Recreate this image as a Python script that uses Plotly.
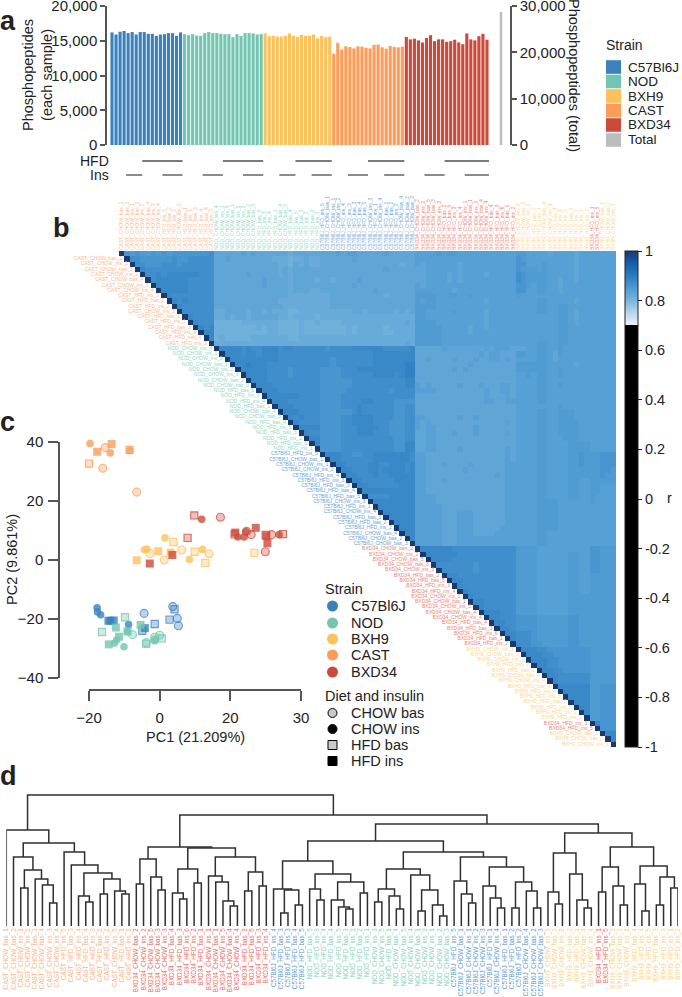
import plotly.graph_objects as go

W, H = 682, 997
FONT = "Liberation Sans"
def PX(x): return x / W
def PY(y): return 1 - y / H

STRAINS = ["C57Bl6J", "NOD", "BXH9", "CAST", "BXD34"]
COLORS = {"C57Bl6J": "#3b82bd", "NOD": "#72c5b0", "BXH9": "#fbc25c", "CAST": "#fc9c58", "BXD34": "#cc4a3c"}
LABEL_COLORS = {"C57Bl6J": "#6aa3d6", "NOD": "#8fd8c4", "BXH9": "#fdd68f", "CAST": "#fcb98e", "BXD34": "#ec8478"}
DENDRO_COLORS = {"C57Bl6J": "#5a9ad2", "NOD": "#7fd1ba", "BXH9": "#fdcf7e", "CAST": "#fdb27c", "BXD34": "#e8695c"}
TOTAL_COLOR = "#bdbdbd"

# Panel a
C57_COUNTS = [16200, 15900, 16300, 16400, 16100, 16250, 15900, 16250, 16250, 16000, 16000, 15700, 15900, 15950, 16100, 16100, 15700, 16200]
NOD_COUNTS = [15950, 15800, 15950, 15750, 15700, 16100, 16250, 16100, 16100, 16000, 15950, 15950, 15500, 15950, 15700, 16100, 16100, 16050, 15900, 15950]
BXH9_COUNTS = [16050, 15650, 15700, 15600, 15600, 15700, 16050, 15700, 15550, 15850, 15700, 15700, 15900, 15350, 15700, 15500, 15600]
CAST_COUNTS = [13100, 14700, 13750, 14200, 14100, 13900, 14200, 14150, 14000, 13900, 14400, 14450, 14050, 13850, 14250, 14100, 14050, 14150]
BXD34_COUNTS = [15550, 15200, 15300, 15050, 14750, 15400, 15800, 14950, 15200, 15200, 14850, 14950, 15150, 14750, 14500, 16050, 15200, 15050, 15650, 16000, 15150]
TOTAL_COUNT = 28700
HFD_SPANS = [(8, 18), (28, 38), (46, 55), (64, 73), (83, 94)]
INS_SPANS = [(4, 8), (13, 18), (23, 28), (33, 38), (42, 46), (50, 55), (59, 64), (68, 73), (78, 83), (88, 94)]

# Panel c: (PC1, PC2)
C57_CB = [(-4.4, -18.1), (3.7, -15.8), (5.0, -19.8), (5.3, -22.3)]
C57_CI = [(-17.7, -16.2), (-17.6, -17.6), (-16.7, -18.6), (-8.8, -21.9)]
C57_HB = [(-4.9, -24.0), (-1.4, -21.7), (2.8, -20.2), (4.2, -16.7)]
C57_HI = [(-21.1, -22.1), (-14.5, -20.6), (-13.9, -20.6), (-13.0, -20.5), (-4.2, -23.1)]
NOD_CB = [(-7.7, -25.3), (-3.8, -28.0), (-1.4, -26.2), (0.0, -25.5), (-1.4, -27.1)]
NOD_CI = [(-10.1, -29.4), (-12.2, -27.1), (-12.8, -28.2), (-1.4, -27.3), (-9.1, -24.3)]
NOD_HB = [(-16.3, -24.4), (-9.8, -19.4), (0.6, -26.6), (-3.8, -28.4)]
NOD_HI = [(-12.4, -22.9), (-5.4, -22.0), (-11.5, -26.0), (-14.4, -28.6), (-9.1, -24.2)]
BXH_CB = [(-2.7, 2.2), (1.3, 0.0), (6.2, 3.4), (14.0, 2.1)]
BXH_CI = [(1.5, 7.5), (-3.6, 3.7), (-4.3, 3.5), (12.1, 3.6), (8.4, 0.2)]
BXH_HB = [(3.9, 6.1), (9.9, 2.8), (12.9, -1.0), (26.8, 2.4)]
BXH_HI = [(-6.5, -0.1), (-0.4, 3.0), (3.1, 2.5)]
CAST_CB = [(-7.8, 44.1), (-15.4, 38.1), (-16.1, 31.1), (-6.5, 23.0)]
CAST_CI = [(-25.5, 39.0), (-19.7, 39.5), (-17.2, 41.6), (-14.0, 36.3), (-8.5, 37.1)]
CAST_HB = [(-23.4, 40.3), (-20.0, 32.7), (-8.5, 37.3)]
CAST_HI = [(-18.3, 46.1), (-18.3, 41.8), (-13.6, 39.3), (-12.0, 41.1), (-17.7, 36.7)]
BXD_CB = [(17.2, 14.5), (25.9, 8.6), (29.9, 2.8), (31.7, 8.6), (24.6, 9.7)]
BXD_CI = [(11.9, 13.8), (22.1, 7.8), (23.9, 7.8), (24.4, 9.6), (33.8, 8.6)]
BXD_HB = [(9.8, 15.1), (7.9, 7.5), (21.2, 8.7), (30.0, 8.5), (34.9, 8.8)]
BXD_HI = [(-2.8, -1.2), (3.6, 1.7), (21.4, 9.3), (27.2, 10.9), (30.2, 8.1), (30.5, 5.7)]

# Panel b: sample order
HEAT_CAST = ["CAST_" + s for s in "CHOW_bas_1 CHOW_bas_2 CHOW_ins_1 CHOW_bas_3 CHOW_ins_2 CHOW_bas_4 CHOW_ins_3 CHOW_ins_4 HFD_ins_5 HFD_bas_2 HFD_ins_2 CHOW_ins_5 HFD_bas_1 HFD_ins_1 HFD_bas_3 HFD_ins_4 HFD_bas_4 HFD_ins_3".split()]
HEAT_NOD = ["NOD_" + s for s in "CHOW_ins_4 CHOW_ins_1 CHOW_ins_5 CHOW_bas_1 CHOW_ins_2 CHOW_ins_3 CHOW_bas_2 CHOW_bas_3 HFD_bas_5 HFD_ins_3 HFD_ins_4 HFD_bas_1 CHOW_bas_4 CHOW_bas_5 HFD_bas_4 HFD_ins_5 HFD_bas_3 HFD_ins_2 HFD_bas_2 HFD_ins_1".split()]
HEAT_C57 = ["C57Bl6J_" + s for s in "HFD_ins_5 CHOW_bas_1 CHOW_ins_1 CHOW_ins_2 HFD_ins_4 HFD_ins_3 HFD_bas_3 HFD_bas_4 HFD_bas_5 CHOW_ins_3 HFD_ins_1 CHOW_ins_4 HFD_bas_1 HFD_bas_2 HFD_ins_2 CHOW_bas_4 CHOW_bas_2 CHOW_bas_3".split()]
HEAT_BXD = ["BXD34_" + s for s in "CHOW_bas_2 CHOW_ins_2 CHOW_bas_5 CHOW_bas_3 CHOW_ins_3 HFD_bas_2 HFD_bas_5 HFD_ins_3 HFD_ins_4 CHOW_ins_1 CHOW_bas_1 CHOW_ins_5 CHOW_bas_4 CHOW_ins_4 HFD_bas_4 HFD_bas_3 HFD_ins_6 HFD_bas_1 HFD_ins_2".split()]
HEAT_BXH = ["BXH9_" + s for s in "CHOW_ins_3 CHOW_bas_3 CHOW_ins_2 HFD_bas_2 HFD_bas_1 CHOW_bas_4 CHOW_ins_4 HFD_bas_4 HFD_ins_4 HFD_ins_5 HFD_bas_3 HFD_ins_3 HFD_ins_1 HFD_ins_2".split()]
HEAT_END = ["BXD34_HFD_ins_1", "BXD34_HFD_ins_5", "BXH9_CHOW_bas_1", "BXH9_CHOW_bas_2", "BXH9_CHOW_ins_1"]
HEAT_SAMPLES = HEAT_CAST + HEAT_NOD + HEAT_C57 + HEAT_BXD + HEAT_BXH + HEAT_END

# Correlation: digit d means r = 0.80 + 0.01 d. Each row starts right of the diagonal.
HEAT_ROWS = """
65655656566666667 33333434333333233333 333434433333433333 4444545544444444444 55444434444344 44 444
7766666676677777 33433333333222122322 333333433333333333 4444444444444444444 65444444444344 44 444
776667776777777 33333333333322132322 333333333333333233 4344444434444444444 66444544444344 44 444
87777777777777 33333333333323233333 333333333333433333 3344444434444444444 65554544444344 44 444
7787888888777 33333343333323233333 333333333333333333 3344443434444344444 76555544444344 44 444
788888877777 33333333343333233332 332333343333333333 3344443434444444444 76555544344344 44 444
88888877777 33333333343333233333 333333433333333333 4344444444444444444 66545544344444 44 444
8888877777 33333333333333233322 333333333343333333 4444444344444444444 66445544344444 44 444
877777777 33333333333333222222 223333333333233333 5555445544544444444 54444444444444 44 444
87877777 33333333333322222222 223333333333333333 5455444444444344444 44445544444344 44 444
8777777 33333333333332222222 223333333333333333 5555444444444444444 44445544554444 44 444
777777 22333323323222112222 222222332333332323 5544444544444344444 44445544554344 44 444
87777 22323323333322122221 222222222222222222 5544444444444344444 44444444554344 44 444
8777 11111222222211112112 111122222222222232 5555444444444344444 44444444554344 44 444
878 11111111212211112111 111112122222122222 5555544444344344444 44444444554444 44 444
88 11111111112211112111 111112122222112222 5555544444344444444 44444444554444 44 444
8 12111112222222112222 222222222222222222 5555544444444444444 44444444554444 44 444
22222222222222222222 222222222222222232 5555544444444444444 44445544554444 44 444
8888787788878877777 767777888888777778 3333343333333434443 33445544544444 44 444
888788788877777777 777777777788888888 3333333333334344333 55445543544444 44 444
88888888877777777 776777777788888888 3343333433343344343 44445543444444 44 444
8898887777777777 776777777788888899 3333333333433333333 55555544444344 44 444
888887777677777 666677788888888899 3333333434333333333 55555544544444 44 444
88887777677777 666677777788887899 3333333333333333333 44545544544444 44 444
8887777777777 666666777777777788 3333333333333333333 44445544444444 44 444
888777777777 666666777777777788 4343333343334333443 44445544544444 44 444
88877777777 666667777777767777 4444333333333433443 44445544444444 44 444
8888887777 666677777777777777 3333333333333433343 44445544444444 44 444
888777777 666677778877776666 3333333333333443344 44445544444444 44 444
88877777 666677787777776677 3333333333333333333 44444444544444 44 444
8887777 666666787777776677 3333333333333333333 44445544555444 44 444
878777 666677888877776677 4433333343343333333 44445544555444 44 444
87777 666677888877766677 4343333333333333343 44445544555544 44 444
8888 666677788887766677 4344333333343333333 44445544555544 44 444
877 666677788877766677 3344333433343333343 44445544555544 44 444
88 666677777777776677 3344333333333333333 44445544455544 44 444
8 666677777777776688 3344333333333333333 44445544445555 44 444
666677777777776688 3344333343333333343 44445544445555 44 444
88877667788888887 4433333333333333343 44445544445565 55 666
8877777788888887 4433333333333333343 44445544445565 55 666
887777887788878 4433343333433333344 44445544445565 55 666
88777887888878 4433333334333333344 44445544445555 55 665
8877787788888 4433333333333334344 44445544445555 55 655
887777778888 4433343333333333344 44445544445544 55 555
88777777888 4433333333333333344 44445544445544 55 444
8888888888 4433333333333333344 44445544445544 55 444
777788888 4444333333333333344 44445544445544 54 444
88888888 4444333333333333344 44445555444444 54 444
8888888 4444433333333333344 44445555444444 44 444
888888 4444433344433333344 44445555444444 44 444
88888 4444433344433333344 44445555444444 44 444
8888 4444433344433333344 44445555444444 44 444
888 4444433344433333444 44445555444444 44 444
88 4444433344433334444 44445544444444 44 444
8 4444433344444444444 44445544444444 44 444
4444433344444444444 44445544444444 44 444
888888777777777777 55554444444444 66 555
88888877777777777 55554444445544 66 555
8888777777777777 55554444445544 66 555
777777767777777 55554444445544 66 555
77777767777777 55554444445544 66 555
8877777777777 55554444445544 55 555
887777777777 55554444445544 55 555
87777777777 55554444445544 55 555
8777777777 55554444445544 55 555
877777777 55554444445555 55 555
88777777 55554444445555 55 555
8777777 55554444445555 55 555
888777 55554444445555 55 555
88777 66665555556655 55 555
8877 66665555556655 55 555
887 66665555556655 55 555
88 77765555556655 55 555
8 77765555556655 55 555
77766555556655 55 555
8887766666666 55 555
888776666666 55 555
88877666666 55 555
8877666666 55 555
887766666 55 555
88777777 55 555
8777777 55 555
888888 55 666
88888 55 666
8888 55 666
888 55 666
88 55 666
8 55 666
55 666
8 666
666
88
8
""".split("\n")[1:-1]

# Panel d: nested merges [height, left, right]; 0 is a leaf
TREE_CAST = [96, 0, [83,
    [69, 0, [56, [38, 0, 0], [47, 0, [41, 0, [23, 0, 0]]]]],
    [74, 0, [61, 0, [53, [30, 0, [24, 0, 0]], [47, [32, 0, 0], [35, 0, [32, 0, 0]]]]]]]]
TREE_BXD = [79,
    [67, [42, 0, 0], [49, 0, [36, 0, 0]]],
    [78, [57, [33, 0, [27, 0, 0]], [43, 0, 0]],
         [69, [50, 0, [44, 0, [25, 0, [20, 0, 0]]]], [54, [35, 0, 0], [40, 0, 0]]]]]
TREE_MID_A = [65, [37, 0, [36, [13, 0, 0], [21, 0, 0]]],
    [52, [37, 0, [26, 0, 0]], [44, [26, 0, [19, 0, [17, 0, 0]]], [33, 0, 0]]]]
TREE_MID_B = [74,
    [57, [37, [24, 0, 0], [30, 0, [17, 0, 0]]], [51, 0, [36, [15, 0, 0], [21, 0, [10, 0, 0]]]]],
    [69, [45, 0, [32, 0, [23, 0, 0]]],
         [59, [40, 0, [28, 0, [18, 0, 0]]], [44, [18, 0, 0], [35, 0, [18, 0, 0]]]]]]
TREE_BXH = [93,
    [73, [34, 0, [22, 0, 0]], [52, 0, [26, 0, [18, 0, 0]]]],
    [79, [59, [34, 0, 0], [40, 0, [21, 0, 0]]],
         [60, [42, 0, [15, 0, 0]], [49, [21, 0, 0], [38, 0, 0]]]]]
TREE = [131, TREE_CAST, [111, TREE_BXD, [102, [85, TREE_MID_A, TREE_MID_B], TREE_BXH]]]

DENDRO_CAST = ["CAST_" + s for s in "CHOW_bas_1 CHOW_bas_2 CHOW_ins_1 CHOW_ins_2 CHOW_bas_3 CHOW_bas_4 CHOW_ins_3 CHOW_ins_4 HFD_ins_5 HFD_bas_3 HFD_ins_4 HFD_bas_4 HFD_ins_3 HFD_bas_2 HFD_ins_2 CHOW_ins_5 HFD_bas_1 HFD_ins_1".split()]
DENDRO_BXD = ["BXD34_" + s for s in "CHOW_bas_2 CHOW_ins_2 CHOW_bas_5 CHOW_bas_3 CHOW_ins_3 HFD_bas_4 HFD_bas_3 HFD_ins_6 HFD_ins_2 HFD_bas_1 CHOW_ins_1 CHOW_bas_1 CHOW_ins_5 CHOW_bas_4 CHOW_ins_4 HFD_bas_2 HFD_bas_5 HFD_ins_3 HFD_ins_4".split()]
DENDRO_C57A = ["C57Bl6J_" + s for s in "HFD_ins_4 HFD_bas_3 HFD_ins_3 HFD_bas_4 HFD_bas_5".split()]
DENDRO_NOD = ["NOD_" + s for s in "HFD_bas_5 HFD_ins_3 HFD_ins_4 HFD_bas_4 HFD_ins_5 HFD_bas_3 HFD_ins_2 HFD_bas_2 HFD_ins_1 CHOW_ins_3 CHOW_ins_5 HFD_bas_1 CHOW_bas_4 CHOW_bas_5 CHOW_ins_4 CHOW_bas_1 CHOW_ins_2 CHOW_ins_1 CHOW_bas_2 CHOW_bas_3".split()]
DENDRO_C57B = ["C57Bl6J_" + s for s in "HFD_ins_5 CHOW_bas_1 CHOW_ins_1 CHOW_ins_2 CHOW_ins_3 HFD_ins_1 CHOW_ins_4 HFD_bas_1 HFD_bas_2 HFD_ins_2 CHOW_bas_4 CHOW_bas_2 CHOW_bas_3".split()]
DENDRO_BXHA = ["BXH9_" + s for s in "CHOW_ins_3 CHOW_bas_3 CHOW_ins_2 HFD_bas_2 HFD_bas_1 CHOW_bas_4 CHOW_ins_4".split()]
DENDRO_BXDB = ["BXD34_HFD_ins_1", "BXD34_HFD_ins_5"]
DENDRO_BXHB = ["BXH9_" + s for s in "CHOW_bas_1 CHOW_bas_2 CHOW_ins_1 HFD_bas_4 HFD_ins_4 HFD_ins_5 HFD_bas_3 HFD_ins_3 HFD_ins_1 HFD_ins_2".split()]
DENDRO_LEAVES = DENDRO_CAST + DENDRO_BXD + DENDRO_C57A + DENDRO_NOD + DENDRO_C57B + DENDRO_BXHA + DENDRO_BXDB + DENDRO_BXHB

def sample_color(name, table=LABEL_COLORS):
    return table[name.split("_")[0]]

fig = go.Figure()

# ---- a: bars
offset = 0
for strain, vals in zip(STRAINS, [C57_COUNTS, NOD_COUNTS, BXH9_COUNTS, CAST_COUNTS, BXD34_COUNTS]):
    fig.add_bar(x=list(range(offset, offset + len(vals))), y=vals, marker=dict(color=COLORS[strain], line_width=0),
                width=0.78, xaxis="x", yaxis="y", showlegend=False, name=strain)
    offset += len(vals)
fig.add_bar(x=[0], y=[TOTAL_COUNT], marker=dict(color=TOTAL_COLOR, line_width=0), width=0.18,
            xaxis="x2", yaxis="y2", showlegend=False, name="Total")

def spans_xy(spans, level):
    xs, ys = [], []
    for a, b in spans:
        xs += [a - 0.5, b - 0.5, None]
        ys += [level, level, None]
    return xs, ys
for spans, level in [(HFD_SPANS, 1), (INS_SPANS, 0)]:
    xs, ys = spans_xy(spans, level)
    fig.add_scatter(x=xs, y=ys, mode="lines", line=dict(color="#4d4d4d", width=1.3), xaxis="x3", yaxis="y3",
                    showlegend=False, hoverinfo="skip")

# ---- b: heatmap
n = len(HEAT_SAMPLES)
z = [[None] * n for _ in range(n)]
for i in range(n):
    z[i][i] = 1.0
    row = HEAT_ROWS[i].replace(" ", "") if i < len(HEAT_ROWS) else ""
    for j in range(i + 1, n):
        k = j - i - 1
        d = int(row[k]) if k < len(row) else (int(row[-1]) if row else 5)
        z[i][j] = 0.80 + 0.01 * d
scale = [[0, "#000000"], [0.8499, "#000000"], [0.85, "#eef4fa"], [0.875, "#b8d6ec"], [0.9, "#78b6df"],
         [0.925, "#4f9bd2"], [0.95, "#2a7bc2"], [0.975, "#1160ab"], [1, "#1a3a6e"]]
idx = list(range(n))
fig.add_heatmap(x=idx, y=idx, z=z, zmin=-1, zmax=1, colorscale=scale, xaxis="x5", yaxis="y5", hoverongaps=False,
                colorbar=dict(x=PX(625), xanchor="left", xpad=0, y=PY(251), yanchor="top", ypad=0,
                              len=496 / H, lenmode="fraction", thickness=13, thicknessmode="pixels",
                              tickmode="array", tickvals=[1, .8, .6, .4, .2, 0, -.2, -.4, -.6, -.8, -1],
                              ticktext=["1", "0.8", "0.6", "0.4", "0.2", "0", "-0.2", "-0.4", "-0.6", "-0.8", "-1"],
                              ticks="outside", ticklen=4, tickwidth=1, tickcolor="#222", outlinewidth=1, outlinecolor="#222",
                              tickfont=dict(size=14.5, color="#222", family=FONT)))
fig.add_scatter(x=[i - 0.9 for i in idx], y=idx, mode="text", text=HEAT_SAMPLES, textposition="middle left",
                textfont=dict(size=5, color=[sample_color(s) for s in HEAT_SAMPLES], family=FONT),
                xaxis="x5", yaxis="y5", showlegend=False, cliponaxis=False, hoverinfo="skip")

# ---- c: PCA
PCA_SETS = [("C57Bl6J", C57_CB, C57_CI, C57_HB, C57_HI), ("NOD", NOD_CB, NOD_CI, NOD_HB, NOD_HI),
            ("BXH9", BXH_CB, BXH_CI, BXH_HB, BXH_HI), ("CAST", CAST_CB, CAST_CI, CAST_HB, CAST_HI),
            ("BXD34", BXD_CB, BXD_CI, BXD_HB, BXD_HI)]
def rgba(hexc, a):
    h = hexc.lstrip("#")
    return f"rgba({int(h[:2],16)},{int(h[2:4],16)},{int(h[4:],16)},{a})"
for strain, cb, ci, hb, hi in PCA_SETS:
    c = COLORS[strain]
    for pts, sym, pale, size in [(cb, "circle", True, 8), (hb, "square", True, 7.2), (ci, "circle", False, 7.6), (hi, "square", False, 8)]:
        marker = dict(symbol=sym, size=size,
                      color=rgba(c, 0.35) if pale else rgba(c, 0.8),
                      line=dict(color=rgba(c, 0.75), width=1.1) if pale else dict(width=0))
        fig.add_scatter(x=[p[0] for p in pts], y=[p[1] for p in pts], mode="markers", marker=marker,
                        xaxis="x4", yaxis="y4", showlegend=False, cliponaxis=False, name=strain)

# ---- d: dendrogram
DX, DY = [], []
counter = [0]
def walk(node):
    if node == 0:
        counter[0] += 1
        return counter[0] - 1, 0
    h, left, right = node
    xl, hl = walk(left)
    xr, hr = walk(right)
    DX.extend([xl, xl, xr, xr, None])
    DY.extend([hl, h, h, hr, None])
    return (xl + xr) / 2, h
walk(TREE)
fig.add_scatter(x=DX, y=DY, mode="lines", line=dict(color="#2f2f2f", width=1.5), xaxis="x6", yaxis="y6",
                showlegend=False, cliponaxis=False, hoverinfo="skip")

AX = dict(showgrid=False, zeroline=False)
TXT = "#222222"
LINE = "#555555"
def tint(names, table):
    return [f'<span style="color:{sample_color(s, table)}">{s}</span>' for s in names]

layout = dict(
    width=W, height=H, autosize=False, margin=dict(l=0, r=0, t=0, b=0, autoexpand=False), paper_bgcolor="white",
    plot_bgcolor="rgba(0,0,0,0)", font=dict(family=FONT, color=TXT), barmode="overlay",
    xaxis=dict(AX, domain=[PX(107), PX(491)], range=[-1.24, 94], showticklabels=False, ticks="", showline=False),
    yaxis=dict(AX, domain=[PY(145), PY(6)], range=[0, 20000], showline=True, linecolor=LINE, linewidth=1.5,
               ticks="outside", ticklen=5, tickcolor=LINE, tickwidth=1.5, tickvals=[0, 5000, 10000, 15000, 20000],
               tickformat=",", tickfont=dict(size=15, color=TXT), ticklabeloverflow="allow"),
    xaxis2=dict(AX, domain=[PX(496), PX(510)], range=[-5 / 14, 9 / 14], showticklabels=False, ticks="", showline=False),
    yaxis2=dict(AX, domain=[PY(145), PY(6)], range=[0, 30000], side="right", anchor="x2", showline=True, linecolor=LINE,
                linewidth=1.5, ticks="outside", ticklen=5, tickcolor=LINE, tickwidth=1.5,
                tickvals=[0, 10000, 20000, 30000], tickformat=",", tickfont=dict(size=15, color=TXT),
                ticklabeloverflow="allow"),
    xaxis3=dict(AX, domain=[PX(107), PX(491)], range=[-1.24, 94], visible=False),
    yaxis3=dict(AX, domain=[PY(182), PY(154)], range=[-0.5, 1.5], visible=False, anchor="x3"),
    xaxis4=dict(AX, domain=[PX(89), PX(301)], range=[-20, 40], anchor="free", position=PY(690), showline=True,
                linecolor=LINE, linewidth=1.5, ticks="outside", ticklen=10, tickcolor=LINE, tickwidth=1.5,
                tickvals=[-20, 0, 20, 40], ticktext=["\u221220", "0", "20", "30"], tickfont=dict(size=15, color=TXT),
                ticklabelstandoff=4),
    yaxis4=dict(AX, domain=[PY(678), PY(442)], range=[-40, 40], anchor="free", position=PX(59), showline=True,
                linecolor=LINE, linewidth=1.5, ticks="outside", ticklen=10, tickcolor=LINE, tickwidth=1.5,
                tickvals=[-40, -20, 0, 20, 40], tickfont=dict(size=15, color=TXT), ticklabelstandoff=2),
    xaxis5=dict(AX, domain=[PX(119), PX(616)], range=[-0.5, n - 0.5], side="top", anchor="y5", tickmode="array",
                tickvals=idx, ticktext=tint(HEAT_SAMPLES, LABEL_COLORS), tickangle=-90, tickfont=dict(size=5), ticks="",
                ticklen=0, showline=False),
    yaxis5=dict(AX, domain=[PY(747), PY(251)], range=[n - 0.5, -0.5], anchor="x5", visible=False),
    xaxis6=dict(AX, domain=[PX(6.3), PX(678)], range=[0, n - 1], anchor="y6", tickmode="array", tickvals=idx,
                ticktext=tint(DENDRO_LEAVES, DENDRO_COLORS), tickangle=-90, tickfont=dict(size=6.3), ticks="",
                showline=False, ticklabeloverflow="allow"),
    yaxis6=dict(AX, domain=[PY(926), PY(794)], range=[0, 132], anchor="x6", visible=False),
)

annotations = []
def note(text, x, y, size=14.5, xanchor="left", yanchor="middle", angle=0, bold=False, align="left"):
    annotations.append(dict(text=f"<b>{text}</b>" if bold else text, x=PX(x), y=PY(y), xref="paper", yref="paper",
                            showarrow=False, xanchor=xanchor, yanchor=yanchor, textangle=angle, align=align,
                            font=dict(size=size, color=TXT), borderpad=0))
for letter, x, y in [("a", -1, 21), ("b", 52, 228), ("c", -1, 422), ("d", -1, 776)]:
    note(letter, x, y, size=27, bold=True)
note("Phosphopeptides<br>(each sample)", 37, 75, angle=-90, xanchor="center", align="center")
note("Phosphopeptides (total)", 574, 75, angle=90, xanchor="center")
note("HFD", 110, 161, size=14, xanchor="right")
note("Ins", 110, 175, size=14, xanchor="right")
note("Strain", 605, 45, size=14)
LEGEND_A_Y = [67, 81.5, 96, 110.5, 125, 140]
shapes = []
for name, y in zip(STRAINS + ["Total"], LEGEND_A_Y):
    c = COLORS.get(name, TOTAL_COLOR)
    note(name, 627, y, size=13.5)
    shapes.append(dict(type="rect", xref="paper", yref="paper", x0=PX(606), x1=PX(621), y0=PY(y - 6.8), y1=PY(y + 6.8),
                       fillcolor=c, line_width=0))
note("PC1 (21.209%)", 195, 737, xanchor="center")
note("PC2 (9.861%)", 12, 560, angle=-90, xanchor="center")
note("r", 666, 498)
note("Strain", 324, 589)
LEGEND_C_Y = [606, 623, 639, 655, 672]
for name, y in zip(STRAINS, LEGEND_C_Y):
    note(name, 350, y)
    shapes.append(dict(type="circle", xref="paper", yref="paper", x0=PX(327), x1=PX(338), y0=PY(y - 5.5), y1=PY(y + 5.5),
                       fillcolor=COLORS[name], line_width=0))
note("Diet and insulin", 324, 696)
for name, y, kind, fill in [("CHOW bas", 713, "circle", "#c8c8c8"), ("CHOW ins", 729, "circle", "#000000"),
                            ("HFD bas", 745, "rect", "#c8c8c8"), ("HFD ins", 761, "rect", "#000000")]:
    note(name, 350, y)
    shapes.append(dict(type=kind, xref="paper", yref="paper", x0=PX(328), x1=PX(337), y0=PY(y - 4.5), y1=PY(y + 4.5),
                       fillcolor=fill, line=dict(color="#000000", width=1)))

fig.update_layout(**layout, annotations=annotations, shapes=shapes)
fig.write_html("out.html", post_script="document.body.style.margin='0';", config={"displayModeBar": False})
